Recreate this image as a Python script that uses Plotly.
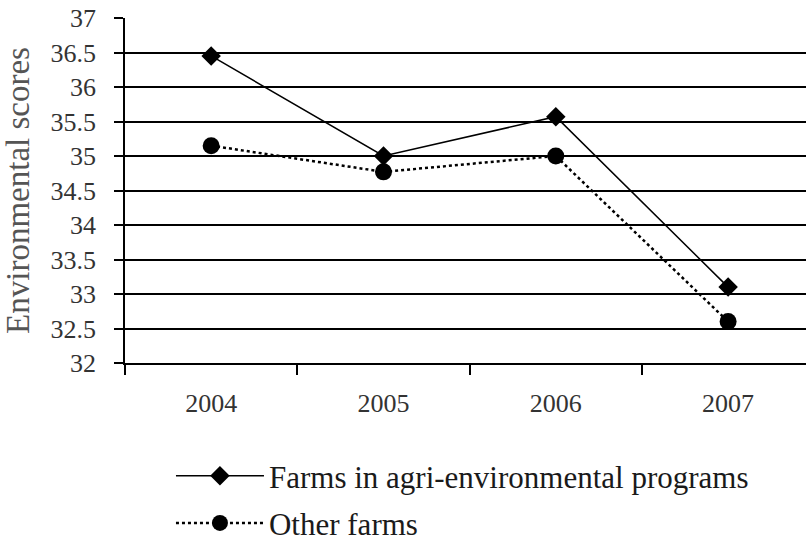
import plotly.graph_objects as go

years = ["2004", "2005", "2006", "2007"]
agri_env = [36.45, 35.0, 35.57, 33.1]
other_farms = [35.15, 34.77, 35.0, 32.6]
y_ticks = [32, 32.5, 33, 33.5, 34, 34.5, 35, 35.5, 36, 36.5, 37]
y_tick_text = ["32", "32.5", "33", "33.5", "34", "34.5", "35", "35.5", "36", "36.5", "37"]

SERIF = "Liberation Serif"

fig = go.Figure()
fig.add_trace(go.Scatter(
    x=years, y=agri_env, mode="lines+markers",
    name="Farms in agri-environmental programs",
    line=dict(color="black", width=1.5, dash="solid"),
    marker=dict(symbol="diamond", size=15, color="black"),
    legendgroup="a",
))
fig.add_trace(go.Scatter(
    x=years, y=other_farms, mode="lines+markers",
    name="Other farms",
    line=dict(color="black", width=2.5, dash="dot"),
    marker=dict(symbol="circle", size=17, color="black"),
    legendgroup="b",
))

fig.update_layout(
    width=806, height=541,
    margin=dict(l=125, r=0, t=18, b=178, autoexpand=False),
    paper_bgcolor="white", plot_bgcolor="white",
    font=dict(family=SERIF, color="#333"),
    showlegend=True,
    legend=dict(
        x=0.0675, y=-0.542, xanchor="left", yanchor="bottom",
        font=dict(family=SERIF, size=31, color="#1a1a1a"),
        traceorder="grouped", tracegroupgap=4,
        itemwidth=88,
        bgcolor="rgba(0,0,0,0)",
    ),
)
fig.update_xaxes(
    type="category", range=[-0.5, 3.452], automargin=False,
    showgrid=False, showline=True, linecolor="black", linewidth=1.5,
    ticks="outside", tickson="boundaries", ticklen=10, tickcolor="black", tickwidth=1.5,
    tickfont=dict(family=SERIF, size=26, color="#333"),
    ticklabelstandoff=16,
    zeroline=False,
)
fig.update_yaxes(
    range=[32, 37], tickvals=y_ticks, ticktext=y_tick_text, automargin=False,
    showgrid=True, gridcolor="black", gridwidth=1.5,
    showline=True, linecolor="black", linewidth=1.5,
    ticks="outside", ticklen=9, tickcolor="black", tickwidth=1.5,
    tickfont=dict(family=SERIF, size=26, color="#333"),
    ticklabelstandoff=13,
    title=dict(text="Environmental scores", font=dict(family=SERIF, size=33, color="#555"), standoff=20),
    zeroline=False,
)

fig.write_html("out.html", config={"displayModeBar": False},
               post_script="document.body.style.margin='0';")
